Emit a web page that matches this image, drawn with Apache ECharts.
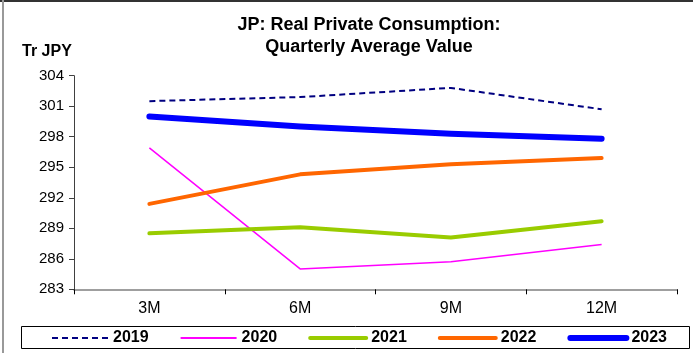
<!DOCTYPE html>
<html>
<head>
<meta charset="utf-8">
<script src="https://cdn.jsdelivr.net/npm/echarts@6/dist/echarts.min.js"></script>
<style>
html,body{margin:0;padding:0;background:#fff;}
#chart{width:693px;height:353px;}
</style>
</head>
<body>
<div id="chart"></div>
<script>
var categories = ['3M', '6M', '9M', '12M'];
var yTicks = [283, 286, 289, 292, 295, 298, 301, 304];
var s2019 = [301.5, 301.9, 302.8, 300.7];
var s2020 = [296.9, 285.0, 285.7, 287.4];
var s2021 = [288.5, 289.1, 288.1, 289.7];
var s2022 = [291.4, 294.3, 295.3, 295.9];
var s2023 = [300.0, 299.0, 298.3, 297.8];

var FONT = 'Liberation Sans, Arial, sans-serif';
var chart = echarts.init(document.getElementById('chart'));
chart.setOption({
  animation: false,
  backgroundColor: '#fff',
  title: {
    text: 'JP: Real Private Consumption:\nQuarterly Average Value',
    left: 364, textAlign: 'center', top: 9,
    textStyle: { fontFamily: FONT, fontSize: 18, fontWeight: 'bold', color: '#000', lineHeight: 22 }
  },
  graphic: [
    { type: 'line', shape: { x1: 0, y1: 1, x2: 693, y2: 1 }, style: { stroke: '#333', lineWidth: 2 } },
    { type: 'line', shape: { x1: 3, y1: 0, x2: 3, y2: 353 }, style: { stroke: '#999', lineWidth: 2 } },
    { type: 'rect', shape: { x: 21.5, y: 326.5, width: 668, height: 22 }, style: { fill: 'none', stroke: '#000', lineWidth: 1 } },
    { type: 'text', left: 22, top: 44, style: { text: 'Tr JPY', font: 'bold 16px ' + FONT, fill: '#000' } }
  ],
  legend: {
    left: 51, top: 330, padding: 0,
    itemWidth: 56, itemHeight: 14, itemGap: 31,
    itemStyle: { opacity: 0 },
    textStyle: { fontFamily: FONT, fontSize: 16, fontWeight: 'bold', color: '#000' },
    data: [
      { name: '2019', lineStyle: { width: 2 } },
      { name: '2020', lineStyle: { width: 2 } },
      { name: '2021', lineStyle: { width: 4 } },
      { name: '2022', lineStyle: { width: 4 } },
      { name: '2023', lineStyle: { width: 6 } }
    ]
  },
  grid: { left: 74, right: 16, top: 75.7, bottom: 63.7, containLabel: false },
  xAxis: {
    type: 'category', data: categories, boundaryGap: true,
    axisLine: { lineStyle: { color: '#808080', width: 1.5 } },
    axisTick: { show: true, alignWithLabel: false, length: 5, lineStyle: { color: '#000' } },
    axisLabel: { fontFamily: FONT, fontSize: 16, color: '#000', margin: 11 }
  },
  yAxis: {
    type: 'value', min: 283, max: 304,
    axisLine: { show: true, lineStyle: { color: '#404040' } },
    axisTick: { show: true, length: 5, inside: false, customValues: yTicks, lineStyle: { color: '#404040' } },
    axisLabel: { fontFamily: FONT, fontSize: 15, color: '#000', margin: 10, customValues: yTicks },
    splitLine: { show: false }
  },
  series: [
    { name: '2019', type: 'line', data: s2019, symbol: 'none', color: '#000080',
      lineStyle: { color: '#000080', width: 2, type: [6, 4] } },
    { name: '2020', type: 'line', data: s2020, symbol: 'none', color: '#FF00FF',
      lineStyle: { color: '#FF00FF', width: 1.5 } },
    { name: '2021', type: 'line', data: s2021, symbol: 'none', color: '#99CC00',
      lineStyle: { color: '#99CC00', width: 4, cap: 'round', join: 'round' } },
    { name: '2022', type: 'line', data: s2022, symbol: 'none', color: '#FF6600',
      lineStyle: { color: '#FF6600', width: 4, cap: 'round', join: 'round' } },
    { name: '2023', type: 'line', data: s2023, symbol: 'none', color: '#0000FF',
      lineStyle: { color: '#0000FF', width: 6, cap: 'round', join: 'round' } }
  ]
});
</script>
</body>
</html>
